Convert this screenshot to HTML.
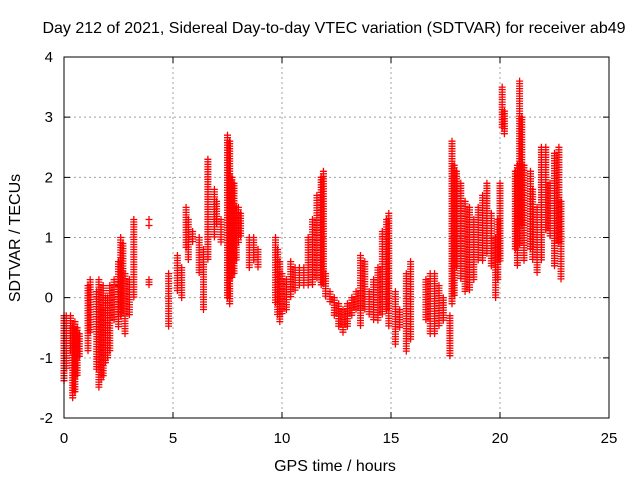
<!DOCTYPE html>
<html><head><meta charset="utf-8"><style>
body{margin:0;background:#fff}
svg{display:block;font-family:"Liberation Sans",sans-serif}
</style></head><body>
<svg id="chart" width="640" height="480" viewBox="0 0 640 480">
<text x="334" y="33" font-size="16" text-anchor="middle">Day 212 of 2021, Sidereal Day-to-day VTEC variation (SDTVAR) for receiver ab49</text>
<text x="335" y="471" font-size="16" text-anchor="middle">GPS time / hours</text>
<text transform="translate(20,238) rotate(-90)" font-size="16" text-anchor="middle">SDTVAR / TECUs</text>
<g id="grid"></g><g id="ticks"></g><g id="marks"></g>
<rect x="64" y="57" width="545" height="361" fill="none" stroke="#000" stroke-width="1"/>
</svg>
<script>
const xTicks=[0,5,10,15,20,25];
const yTicks=[-2,-1,0,1,2,3,4];
const colHour=[0.0,0.1,0.3,0.4,0.5,0.6,0.7,1.1,1.2,1.5,1.6,1.7,1.8,1.9,2.0,2.1,2.3,2.5,2.6,2.7,2.8,3.0,3.2,3.9,4.8,5.2,5.4,5.6,5.7,5.9,6.2,6.4,6.6,6.9,7.0,7.2,7.5,7.6,7.7,7.8,7.9,8.0,8.1,8.5,8.7,8.9,9.7,9.8,9.9,10.0,10.2,10.4,10.6,10.8,11.0,11.2,11.4,11.6,11.8,11.9,12.0,12.2,12.4,12.6,12.8,13.0,13.2,13.4,13.6,13.8,14.0,14.2,14.4,14.6,14.8,14.9,15.2,15.4,15.7,15.9,16.6,16.8,17.0,17.2,17.4,17.7,17.8,17.9,18.0,18.2,18.4,18.6,18.8,19.0,19.2,19.4,19.6,19.8,19.9,20.0,20.1,20.2,20.7,20.8,20.9,21.0,21.1,21.4,21.5,21.7,21.9,22.1,22.3,22.5,22.7,22.8];
const colLow=[-1.4,-1.2,-0.9,-1.7,-1.6,-1.3,-1.0,-0.9,-0.6,-1.2,-1.5,-1.4,-1.3,-1.1,-1.0,-0.9,-0.4,-0.5,-0.3,-0.2,-0.6,-0.3,0.0,0.2,-0.5,0.1,0.0,0.8,0.6,0.9,0.4,-0.2,0.6,1.0,1.2,0.9,0.0,-0.1,0.3,0.4,0.6,0.9,1.0,0.5,0.6,0.5,-0.1,-0.3,-0.4,-0.3,-0.2,0.0,0.1,0.2,0.2,0.2,0.2,0.3,0.2,0.2,0.0,-0.1,-0.3,-0.5,-0.6,-0.5,-0.3,-0.2,-0.5,-0.2,-0.3,-0.4,-0.4,-0.3,-0.2,-0.5,-0.8,-0.5,-0.9,-0.7,-0.4,-0.6,-0.6,-0.5,-0.4,-1.0,-0.1,0.0,0.5,0.3,0.1,0.1,0.3,0.6,0.6,0.7,0.5,0.0,0.3,0.6,2.8,2.7,0.8,0.5,0.9,1.2,0.6,0.8,0.6,0.4,0.6,1.1,1.0,0.5,0.9,0.3];
const colHigh=[-0.3,-0.3,-0.3,-0.5,-0.4,-0.5,-0.6,0.2,0.3,0.1,0.3,-0.2,0.2,0.0,0.0,0.2,0.3,0.6,1.0,0.9,0.4,0.3,1.3,0.3,0.4,0.7,0.5,1.5,1.3,1.1,1.0,0.8,2.3,1.8,1.6,1.3,2.7,2.6,2.0,1.9,1.5,1.5,1.4,1.0,1.0,0.8,1.0,0.8,0.6,0.4,0.3,0.6,0.5,0.5,0.5,1.0,1.3,1.7,2.0,2.1,0.4,0.1,0.0,-0.1,-0.2,-0.1,0.0,0.1,0.7,0.6,0.1,0.3,0.5,1.1,1.3,1.4,0.1,-0.2,0.4,0.6,0.3,0.4,0.4,0.2,0.0,-0.3,2.6,2.2,2.1,1.9,1.6,1.5,1.3,1.5,1.7,1.9,1.4,1.0,1.3,1.9,3.5,3.1,2.1,2.2,3.6,3.0,2.2,2.1,1.8,1.5,2.5,2.5,1.9,2.4,2.5,1.6];
const extraHour=[3.9,3.9,2.5];
const extraValue=[1.2,1.3,0.2];
const X0=64,X1=609,Y0=418,Y1=57;
const xs=t=>X0+(t-0)/25*(X1-X0);
const ys=v=>Y0-(v+2)/6*(Y0-Y1);
const NS='http://www.w3.org/2000/svg';
const grid=document.getElementById('grid'),ticks=document.getElementById('ticks'),marks=document.getElementById('marks');
function mk(tag,attrs,parent){const e=document.createElementNS(NS,tag);for(const k in attrs)e.setAttribute(k,attrs[k]);parent.appendChild(e);return e;}
xTicks.forEach(t=>{const x=xs(t);
 if(t>0&&t<25){const g=mk('line',{x1:x,x2:x,y1:Y1,y2:Y0,stroke:'#a0a0a0','stroke-dasharray':'2,3'},grid);}
 const tk=mk('path',{d:`M${x},${Y0}v-6M${x},${Y1}v6`,stroke:'#000'},ticks);
 const l=mk('text',{x:x,y:443,'font-size':15,'text-anchor':'middle'},ticks);l.textContent=t;
 
 });
yTicks.forEach(v=>{const y=ys(v);
 if(v>-2&&v<4){const g=mk('line',{x1:X0,x2:X1,y1:y,y2:y,stroke:'#a0a0a0','stroke-dasharray':'2,3'},grid);}
 const tk=mk('path',{d:`M${X0},${y}h6M${X1},${y}h-6`,stroke:'#000'},ticks);
 const l=mk('text',{x:53,y:y+5,'font-size':15,'text-anchor':'end'},ticks);l.textContent=v;
 
 });
function plus(x,y){return `M${(x-3.5).toFixed(1)},${y.toFixed(1)}h7M${x.toFixed(1)},${(y-3.5).toFixed(1)}v7`;}
colHour.forEach((t,i)=>{const x=xs(t);const ya=ys(colHigh[i]),yb=ys(colLow[i]);let d='';
 for(let y=ya;y<=yb+0.1;y+=2.5)d+=plus(x,y);
 const p=mk('path',{d:d,stroke:'#f00','stroke-width':1.3,fill:'none'},marks);
 
 });
extraHour.forEach((t,i)=>{const p=mk('path',{d:plus(xs(t),ys(extraValue[i])),stroke:'#f00','stroke-width':1.3},marks);
 
 });
</script>
</body></html>
